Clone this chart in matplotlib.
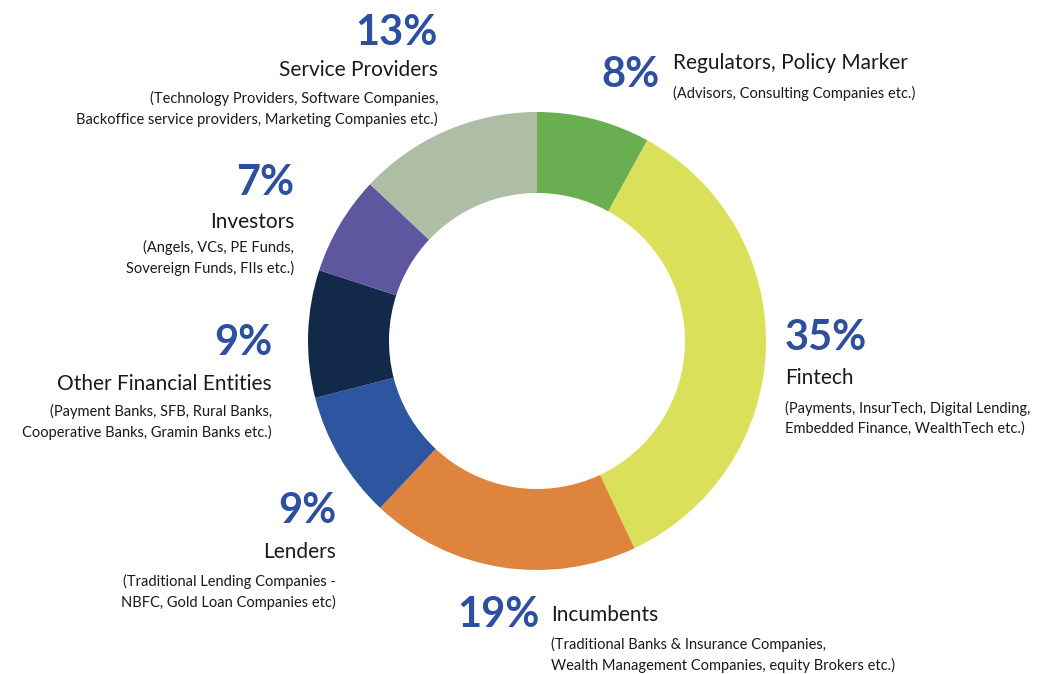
import matplotlib.pyplot as plt

plt.rcParams['font.family'] = 'Lato'

labels = ["Regulators, Policy Marker", "Fintech", "Incumbents", "Lenders",
          "Other Financial Entities", "Investors", "Service Providers"]
shares = [8, 35, 19, 9, 9, 7, 13]
notes = ["(Advisors, Consulting Companies etc.)",
         "(Payments, InsurTech, Digital Lending,\nEmbedded Finance, WealthTech etc.)",
         "(Traditional Banks & Insurance Companies,\nWealth Management Companies, equity Brokers etc.)",
         "(Traditional Lending Companies -\nNBFC, Gold Loan Companies etc)",
         "(Payment Banks, SFB, Rural Banks,\nCooperative Banks, Gramin Banks etc.)",
         "(Angels, VCs, PE Funds,\nSovereign Funds, FIIs etc.)",
         "(Technology Providers, Software Companies,\nBackoffice service providers, Marketing Companies etc.)"]
colors = ["#6aae52", "#dbe05a", "#df843d", "#2d55a0", "#12294a", "#5f56a0", "#adbea5"]

H = 674
fig = plt.figure(figsize=(10.54, 6.74), dpi=100)
ax = fig.add_axes([0, 0, 1, 1])
ax.set_xlim(0, 1054)
ax.set_ylim(0, H)
ax.set_aspect('equal')
ax.axis('off')

ax.pie(shares, colors=colors, startangle=90, counterclock=False,
       center=(537, H - 341), radius=229, frame=True,
       wedgeprops=dict(width=81, linewidth=0))
ax.set_xlim(0, 1054)
ax.set_ylim(0, H)
ax.axis('off')

blue = "#2d4fa0"
dark = "#1a1a1a"
# (pct x, pct y, pct align, label x, label y, align, note y)
spots = [
    (660, 75, 'right', 673, 63, 'left', 93),
    (785, 338, 'left', 785, 378, 'left', 418),
    (540, 615, 'right', 551, 615, 'left', 655),
    (336, 511, 'right', 336, 552, 'right', 592),
    (272, 343, 'right', 272, 384, 'right', 422),
    (294, 183, 'right', 294, 222, 'right', 258),
    (438, 33, 'right', 438, 70, 'right', 109),
]
for s, lab, note, (px, py, pa, lx, ly, la, ny) in zip(shares, labels, notes, spots):
    ax.text(px, H - py, f"{s}%", color=blue, fontsize=30, fontweight='bold',
            ha=pa, va='center')
    ax.text(lx, H - ly, lab, color=dark, fontsize=15, ha=la, va='center')
    ax.text(lx, H - ny, note, color=dark, fontsize=10.5, ha=la, va='center',
            multialignment=la, linespacing=1.5)

fig.savefig("out.png", dpi=100)
